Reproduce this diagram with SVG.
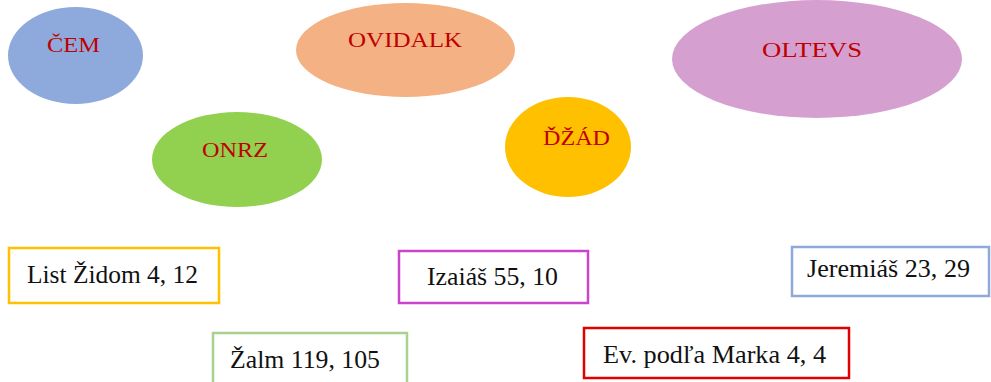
<svg xmlns="http://www.w3.org/2000/svg" width="991" height="382" viewBox="0 0 991 382">
<style>
.bg{fill:#ffffff}
.lbl{font-family:"Liberation Serif","Times New Roman",serif;font-size:22px;fill:#C00000}
.ref{font-family:"Liberation Serif","Times New Roman",serif;font-size:26px;fill:#111111}
.box{fill:#ffffff;stroke-width:2.5}
</style>
<rect class="bg" x="0" y="0" width="991" height="382"/>
<g id="connectors"></g>
<g id="cem">
<ellipse cx="75.5" cy="55.5" rx="67.5" ry="48.5" fill="#8EA9DB"/>
<text class="lbl" x="47" y="52" textLength="53" lengthAdjust="spacingAndGlyphs">ČEM</text>
</g>
<g id="ovidalk">
<ellipse cx="405.5" cy="50" rx="109.5" ry="47" fill="#F4B183"/>
<text class="lbl" x="348" y="47" textLength="114" lengthAdjust="spacingAndGlyphs">OVIDALK</text>
</g>
<g id="onrz">
<ellipse cx="237" cy="159.5" rx="85" ry="47.5" fill="#92D050"/>
<text class="lbl" x="202" y="157" textLength="66" lengthAdjust="spacingAndGlyphs">ONRZ</text>
</g>
<g id="dzad">
<ellipse cx="568" cy="147" rx="63" ry="50" fill="#FFC000"/>
<text class="lbl" x="543" y="145" textLength="67" lengthAdjust="spacingAndGlyphs">ĎŽÁD</text>
</g>
<g id="oltevs">
<ellipse cx="817" cy="59" rx="145" ry="59" fill="#D5A0D0"/>
<text class="lbl" x="762" y="57" textLength="100" lengthAdjust="spacingAndGlyphs">OLTEVS</text>
</g>
<g id="list-zidom">
<rect class="box" x="9" y="248" width="210" height="55" stroke="#FFC000"/>
<text class="ref" x="27" y="283" textLength="171" lengthAdjust="spacingAndGlyphs">List Židom 4, 12</text>
</g>
<g id="izaias">
<rect class="box" x="399" y="251" width="189" height="52" stroke="#CC44CC"/>
<text class="ref" x="427" y="285" textLength="131" lengthAdjust="spacingAndGlyphs">Izaiáš 55, 10</text>
</g>
<g id="jeremias">
<rect class="box" x="792" y="247" width="197" height="49" stroke="#8EA9DB"/>
<text class="ref" x="807" y="277" textLength="163" lengthAdjust="spacingAndGlyphs">Jeremiáš 23, 29</text>
</g>
<g id="zalm">
<rect class="box" x="213" y="333" width="194" height="55" stroke="#A9D18E"/>
<text class="ref" x="230" y="368" textLength="150" lengthAdjust="spacingAndGlyphs">Žalm 119, 105</text>
</g>
<g id="marek">
<rect class="box" x="584" y="328" width="265" height="50" stroke="#E00000"/>
<text class="ref" x="603" y="363" textLength="223" lengthAdjust="spacingAndGlyphs">Ev. podľa Marka 4, 4</text>
</g>
</svg>
